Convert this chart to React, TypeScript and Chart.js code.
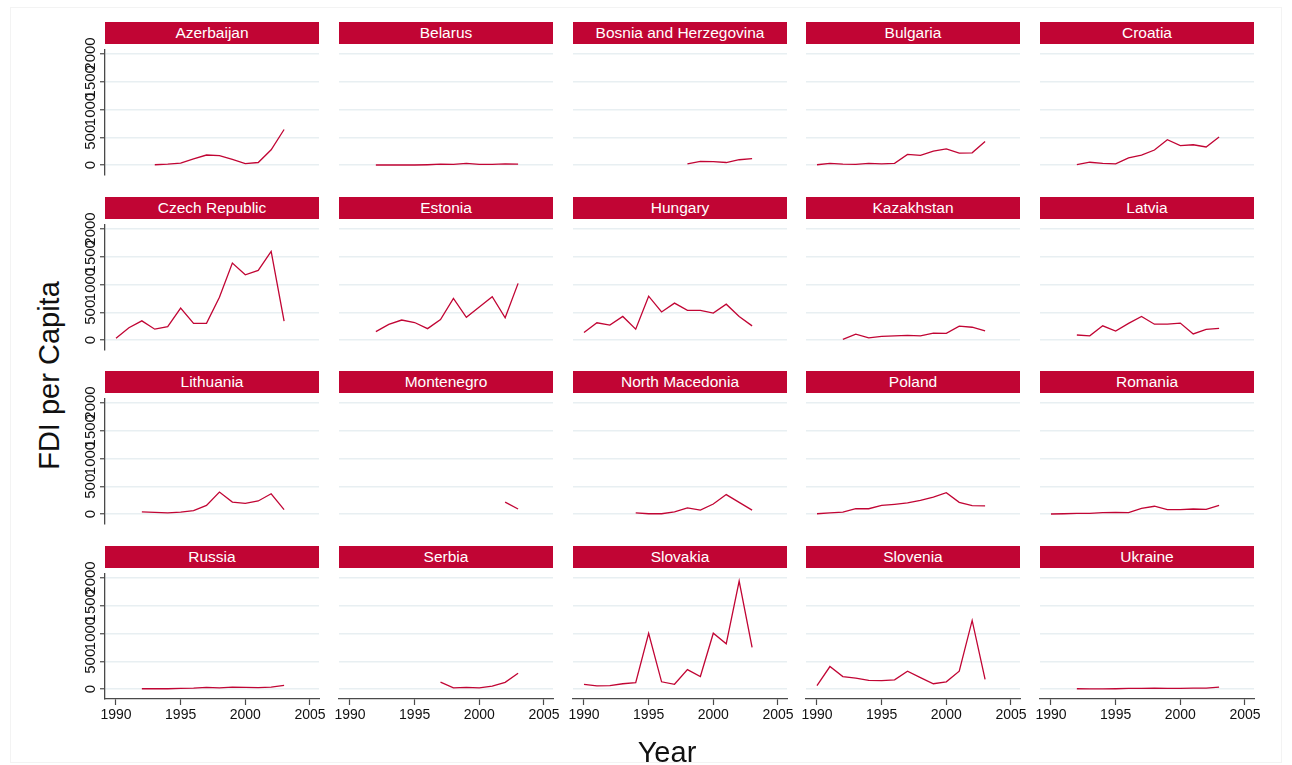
import React, { useEffect, useRef } from "react";
import { Chart, registerables } from "chart.js";

Chart.register(...registerables);

// Observation years shared by every country panel
const years = [1990, 1991, 1992, 1993, 1994, 1995, 1996, 1997, 1998, 1999, 2000, 2001, 2002, 2003];

const countries = [
  "Azerbaijan", "Belarus", "Bosnia and Herzegovina", "Bulgaria", "Croatia",
  "Czech Republic", "Estonia", "Hungary", "Kazakhstan", "Latvia",
  "Lithuania", "Montenegro", "North Macedonia", "Poland", "Romania",
  "Russia", "Serbia", "Slovakia", "Slovenia", "Ukraine",
];

// FDI per capita by year (null = no observation)
const azerbaijan = [null, null, null, 5, 15, 35, 110, 180, 170, 100, 25, 45, 275, 640];
const belarus = [null, null, 0, 0, 0, 0, 5, 15, 10, 30, 10, 10, 20, 15];
const bosnia = [null, null, null, null, null, null, null, null, 20, 65, 60, 45, 95, 115];
const bulgaria = [5, 30, 15, 10, 30, 20, 30, 190, 175, 250, 290, 215, 220, 425];
const croatia = [null, null, 5, 50, 30, 20, 130, 180, 270, 455, 350, 365, 325, 505];
const czechRepublic = [30, 220, 345, 195, 240, 575, 300, 300, 770, 1385, 1175, 1255, 1595, 340];
const estonia = [null, null, 150, 280, 360, 315, 205, 370, 750, 410, 595, 780, 400, 1020];
const hungary = [135, 310, 270, 425, 195, 790, 505, 665, 535, 535, 485, 645, 425, 255];
const kazakhstan = [null, null, 10, 105, 40, 65, 75, 85, 75, 125, 120, 250, 230, 165];
const latvia = [null, null, 90, 75, 255, 160, 300, 425, 285, 285, 305, 110, 190, 210];
const lithuania = [null, null, 40, 30, 20, 35, 60, 155, 395, 215, 190, 235, 365, 80];
const montenegro = [null, null, null, null, null, null, null, null, null, null, null, null, 215, 90];
const northMacedonia = [null, null, null, null, 20, 5, 5, 40, 110, 70, 180, 350, 210, 70];
const poland = [5, 20, 35, 95, 95, 155, 175, 200, 245, 305, 385, 210, 150, 145];
const romania = [0, 5, 10, 10, 25, 30, 25, 100, 140, 80, 80, 90, 85, 155];
const russia = [null, null, 5, 5, 5, 10, 15, 30, 20, 35, 30, 25, 35, 65];
const serbia = [null, null, null, null, null, null, null, 125, 20, 30, 20, 50, 120, 285];
const slovakia = [85, 55, 60, 95, 115, 1005, 130, 85, 350, 225, 1005, 815, 1945, 750];
const slovenia = [60, 405, 225, 195, 155, 150, 165, 320, 205, 95, 130, 320, 1235, 175];
const ukraine = [null, null, 5, 3, 3, 5, 10, 12, 15, 10, 12, 15, 15, 35];

const seriesByCountry = [
  azerbaijan, belarus, bosnia, bulgaria, croatia,
  czechRepublic, estonia, hungary, kazakhstan, latvia,
  lithuania, montenegro, northMacedonia, poland, romania,
  russia, serbia, slovakia, slovenia, ukraine,
];

const xTicks = [1990, 1995, 2000, 2005];
const yTicks = [0, 500, 1000, 1500, 2000];

// Look
const RED = "#c10534";
const AXIS = "#4a4a4a";
const GRID = "#e8eff2";
const FONT = "'Liberation Sans', Arial, Helvetica, sans-serif";

// Grid of panels
const NCOL = 5;
const NROW = 4;
const COL_X0 = 105;
const COL_STEP = 233.75;
const PANEL_W = 214;
const ROW_Y0 = 22;
const ROW_STEP = 174.67;
const STRIP_H = 22;
const PLOT_TOP = 28;
const PLOT_H = 125;
const Y_W = 40;
const R_PAD = 20;
const T_PAD = 18;
const B_PAD = 6;
const X_H = 30;

const X_MIN = 1989.15;
const X_MAX = 2005.7;
const Y_MIN = -180;
const Y_MAX = 2072;

function Panel({ index }: { index: number }) {
  const ref = useRef<HTMLCanvasElement>(null);
  const row = Math.floor(index / NCOL);
  const col = index % NCOL;
  const left = Math.round(COL_X0 + col * COL_STEP);
  const top = Math.round(ROW_Y0 + row * ROW_STEP);
  const isLeft = col === 0;
  const isBottom = row === NROW - 1;
  const cw = Y_W + PANEL_W + R_PAD;
  const ch = T_PAD + PLOT_H + (isBottom ? X_H : B_PAD);

  useEffect(() => {
    const values = seriesByCountry[index];
    const chart = new Chart(ref.current as HTMLCanvasElement, {
      type: "line",
      data: {
        datasets: [
          {
            data: years.map((yr, i) => ({ x: yr, y: values[i] })) as any,
            borderColor: RED,
            borderWidth: 1.3,
            pointRadius: 0,
            pointHoverRadius: 0,
            spanGaps: false,
            fill: false,
            tension: 0,
          },
        ],
      },
      options: {
        animation: false,
        responsive: false,
        devicePixelRatio: 1,
        events: [],
        layout: { padding: { top: T_PAD, right: R_PAD, bottom: isBottom ? 0 : B_PAD, left: 0 } },
        plugins: {
          legend: { display: false },
          tooltip: { enabled: false },
          title: { display: false },
        },
        scales: {
          x: {
            type: "linear",
            display: isBottom,
            min: X_MIN,
            max: X_MAX,
            afterBuildTicks: (s: any) => {
              s.ticks = xTicks.map((v) => ({ value: v }));
            },
            afterFit: (s: any) => {
              s.height = isBottom ? X_H : 0;
              s.paddingLeft = 0;
              s.paddingRight = 0;
            },
            grid: {
              drawOnChartArea: false,
              drawTicks: true,
              tickLength: 6,
              tickColor: AXIS,
              tickWidth: 1.2,
            },
            border: { display: true, color: AXIS, width: 1.3 },
            ticks: {
              autoSkip: false,
              minRotation: 0,
              maxRotation: 0,
              padding: 2,
              color: "#111",
              font: { family: FONT, size: 14 },
              callback: (v: any) => String(v),
            },
          },
          y: {
            type: "linear",
            min: Y_MIN,
            max: Y_MAX,
            afterBuildTicks: (s: any) => {
              s.ticks = yTicks.map((v) => ({ value: v }));
            },
            afterFit: (s: any) => {
              s.width = Y_W;
              s.paddingTop = 0;
              s.paddingBottom = 0;
            },
            grid: {
              color: GRID,
              lineWidth: 1.5,
              drawTicks: isLeft,
              tickLength: 5,
              tickColor: AXIS,
              tickWidth: 1.2,
            },
            border: { display: isLeft, color: AXIS, width: 1.3 },
            ticks: {
              display: isLeft,
              autoSkip: false,
              minRotation: 90,
              maxRotation: 90,
              crossAlign: "center",
              padding: -8,
              color: "#111",
              font: { family: FONT, size: 15 },
              callback: (v: any) => String(v),
            },
          },
        },
      } as any,
    });
    return () => chart.destroy();
  }, [index]);

  return (
    <>
      <canvas
        ref={ref}
        width={cw}
        height={ch}
        style={{
          position: "absolute",
          left: left - Y_W,
          top: top + PLOT_TOP - T_PAD,
          width: cw,
          height: ch,
        }}
      />
      <div
        style={{
          position: "absolute",
          left,
          top,
          width: PANEL_W,
          height: STRIP_H,
          lineHeight: STRIP_H + "px",
          background: RED,
          color: "#fff",
          fontFamily: FONT,
          fontSize: 15.5,
          textAlign: "center",
          whiteSpace: "nowrap",
        }}
      >
        {countries[index]}
      </div>
    </>
  );
}

export default function App() {
  return (
    <div
      style={{
        position: "absolute",
        left: 0,
        top: 0,
        width: 1292,
        height: 765,
        background: "#fff",
        overflow: "hidden",
        fontFamily: FONT,
      }}
    >
      <div
        style={{
          position: "absolute",
          left: 10,
          top: 7,
          width: 1272,
          height: 756,
          border: "1px solid #f3f3f3",
          boxSizing: "border-box",
        }}
      />
      {countries.map((_, i) => (
        <Panel key={i} index={i} />
      ))}
      <div
        style={{
          position: "absolute",
          left: 49 - 150,
          top: 375 - 14.5,
          width: 300,
          height: 29,
          lineHeight: "29px",
          fontSize: 29,
          color: "#111",
          textAlign: "center",
          transform: "rotate(-90deg)",
          whiteSpace: "nowrap",
        }}
      >
        FDI per Capita
      </div>
      <div
        style={{
          position: "absolute",
          left: 667 - 100,
          top: 737.5,
          width: 200,
          height: 29,
          lineHeight: "29px",
          fontSize: 29,
          color: "#111",
          textAlign: "center",
          whiteSpace: "nowrap",
        }}
      >
        Year
      </div>
    </div>
  );
}
